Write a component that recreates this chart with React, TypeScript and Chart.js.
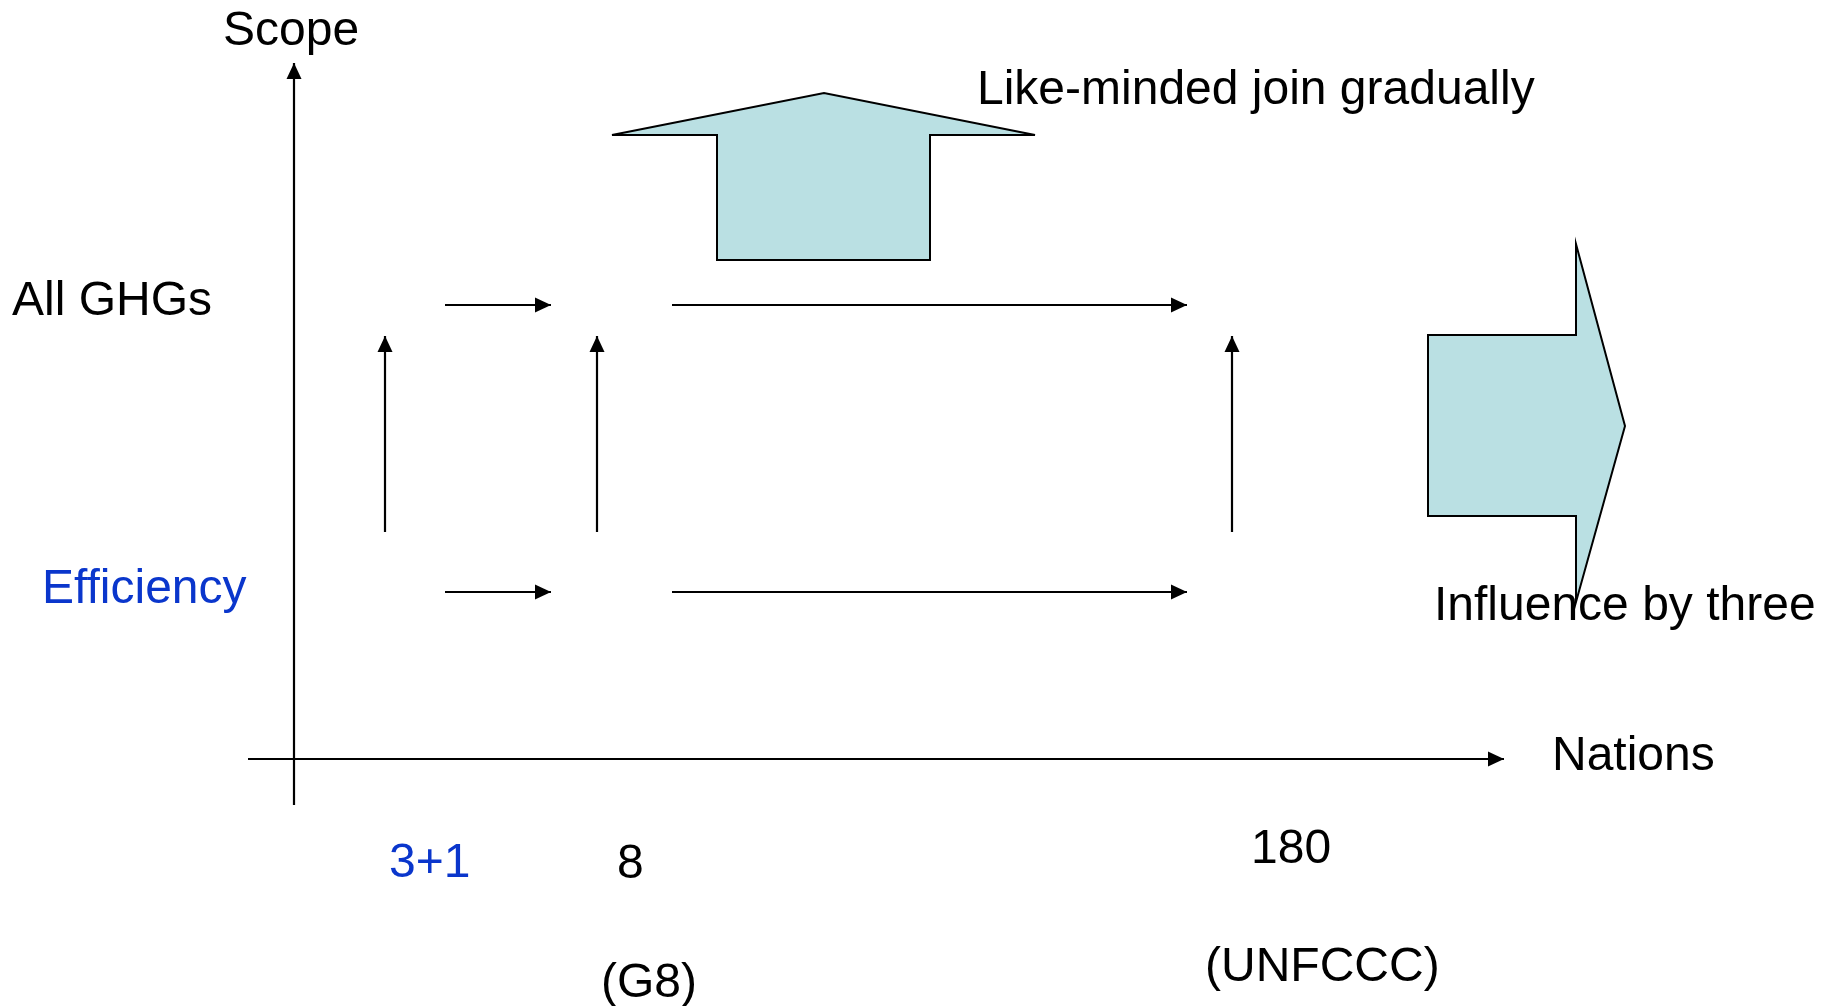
import React, { useEffect, useRef } from "react";
import { Chart, registerables } from "chart.js";

Chart.register(...registerables);

// Diagram coordinate system: origin at the axes' crossing, 1 unit = 10 px
const xRange = [-29.4, 153.7];
const yRange = [-24.7, 75.9];

// Axes (drawn as arrows): [x1, y1, x2, y2]
const axisArrows: number[][] = [
  [0, -4.6, 0, 69.6], // Scope axis
  [-4.6, 0, 121.0, 0], // Nations axis
];

// Horizontal flow arrows on the two scope levels
const scopeLevels = [45.4, 16.7]; // All GHGs, Efficiency
const horizontalSpans: number[][] = [
  [15.1, 25.7],
  [37.8, 89.3],
];

// Vertical arrows (Efficiency -> All GHGs) at each nation group
const verticalXs = [9.1, 30.3, 93.8];
const verticalSpan = [22.7, 42.3];

// Block arrows (outline points)
const upArrowX = [42.3, 42.3, 31.8, 53.0, 74.1, 63.6, 63.6];
const upArrowY = [49.9, 62.4, 62.4, 66.6, 62.4, 62.4, 49.9];
const rightArrowX = [113.4, 128.2, 128.2, 133.1, 128.2, 128.2, 113.4];
const rightArrowY = [42.4, 42.4, 51.5, 33.3, 15.7, 24.3, 24.3];

// Text labels
const labelTexts = [
  "Scope",
  "Like-minded join gradually",
  "All GHGs",
  "Efficiency",
  "Nations",
  "Influence by three",
  "3+1",
  "8",
  "180",
  "(G8)",
  "(UNFCCC)",
];
const labelXs = [-7.1, 68.3, -28.2, -25.2, 125.8, 114.0, 9.5, 32.3, 95.7, 30.7, 91.1];
const labelYs = [71.4, 65.5, 44.4, 15.6, -1.1, 13.9, -11.8, -11.9, -10.4, -23.8, -22.2];
const labelBlue = [false, false, false, true, false, false, true, false, false, false, false];

const BLACK = "#000000";
const BLUE = "#0a36cc";
const TEAL = "#bae0e3";
const FONT = '48px "Liberation Sans", Arial, Helvetica, sans-serif';

type Seg = { x1: number; y1: number; x2: number; y2: number; width: number };

function buildArrows(): Seg[] {
  const segs: Seg[] = [];
  axisArrows.forEach((a) => segs.push({ x1: a[0], y1: a[1], x2: a[2], y2: a[3], width: 2.2 }));
  scopeLevels.forEach((lvl) =>
    horizontalSpans.forEach((s) => segs.push({ x1: s[0], y1: lvl, x2: s[1], y2: lvl, width: 2.2 }))
  );
  verticalXs.forEach((vx) =>
    segs.push({ x1: vx, y1: verticalSpan[0], x2: vx, y2: verticalSpan[1], width: 2.2 })
  );
  return segs;
}

export default function App() {
  const canvasRef = useRef<HTMLCanvasElement | null>(null);

  useEffect(() => {
    document.body.style.margin = "0";
    document.body.style.overflow = "hidden";
    const canvas = canvasRef.current;
    if (!canvas) return;

    const segs = buildArrows();

    const datasets: any[] = segs.map((s) => ({
      data: [
        { x: s.x1, y: s.y1 },
        { x: s.x2, y: s.y2 },
      ],
      showLine: true,
      borderColor: BLACK,
      borderWidth: s.width,
      pointRadius: 0,
      fill: false,
      arrow: true,
    }));

    const polygons = [
      { xs: upArrowX, ys: upArrowY },
      { xs: rightArrowX, ys: rightArrowY },
    ];

    const diagramPlugin = {
      id: "diagram",
      beforeDatasetsDraw(chart: any) {
        const { ctx, scales } = chart;
        const sx = scales.x;
        const sy = scales.y;
        ctx.save();
        polygons.forEach((p) => {
          ctx.beginPath();
          p.xs.forEach((vx, i) => {
            const px = sx.getPixelForValue(vx);
            const py = sy.getPixelForValue(p.ys[i]);
            if (i === 0) ctx.moveTo(px, py);
            else ctx.lineTo(px, py);
          });
          ctx.closePath();
          ctx.fillStyle = TEAL;
          ctx.fill();
          ctx.lineWidth = 2;
          ctx.strokeStyle = BLACK;
          ctx.lineJoin = "miter";
          ctx.stroke();
        });
        ctx.restore();
      },
      afterDatasetsDraw(chart: any) {
        const { ctx, scales } = chart;
        const sx = scales.x;
        const sy = scales.y;
        ctx.save();
        // arrowheads
        chart.data.datasets.forEach((ds: any) => {
          if (!ds.arrow) return;
          const a = ds.data[0];
          const b = ds.data[1];
          const ax = sx.getPixelForValue(a.x);
          const ay = sy.getPixelForValue(a.y);
          const bx = sx.getPixelForValue(b.x);
          const by = sy.getPixelForValue(b.y);
          const ang = Math.atan2(by - ay, bx - ax);
          const len = 16;
          const half = 7.5;
          ctx.beginPath();
          ctx.moveTo(bx, by);
          ctx.lineTo(
            bx - len * Math.cos(ang) + half * Math.sin(ang),
            by - len * Math.sin(ang) - half * Math.cos(ang)
          );
          ctx.lineTo(
            bx - len * Math.cos(ang) - half * Math.sin(ang),
            by - len * Math.sin(ang) + half * Math.cos(ang)
          );
          ctx.closePath();
          ctx.fillStyle = BLACK;
          ctx.fill();
        });
        // labels
        ctx.font = FONT;
        ctx.textAlign = "left";
        ctx.textBaseline = "alphabetic";
        labelTexts.forEach((t, i) => {
          ctx.fillStyle = labelBlue[i] ? BLUE : BLACK;
          ctx.fillText(t, sx.getPixelForValue(labelXs[i]), sy.getPixelForValue(labelYs[i]));
        });
        ctx.restore();
      },
    };

    const chart = new Chart(canvas, {
      type: "scatter",
      data: { datasets },
      options: {
        animation: false,
        responsive: false,
        maintainAspectRatio: false,
        events: [],
        layout: { padding: 0 },
        plugins: {
          legend: { display: false },
          tooltip: { enabled: false },
        },
        scales: {
          x: { type: "linear", min: xRange[0], max: xRange[1], display: false },
          y: { type: "linear", min: yRange[0], max: yRange[1], display: false },
        },
      },
      plugins: [diagramPlugin],
    });

    return () => {
      chart.destroy();
    };
  }, []);

  return (
    <div style={{ width: 1831, height: 1006, background: "#ffffff", position: "relative" }}>
      <canvas ref={canvasRef} width={1831} height={1006} style={{ width: 1831, height: 1006, display: "block" }} />
    </div>
  );
}
